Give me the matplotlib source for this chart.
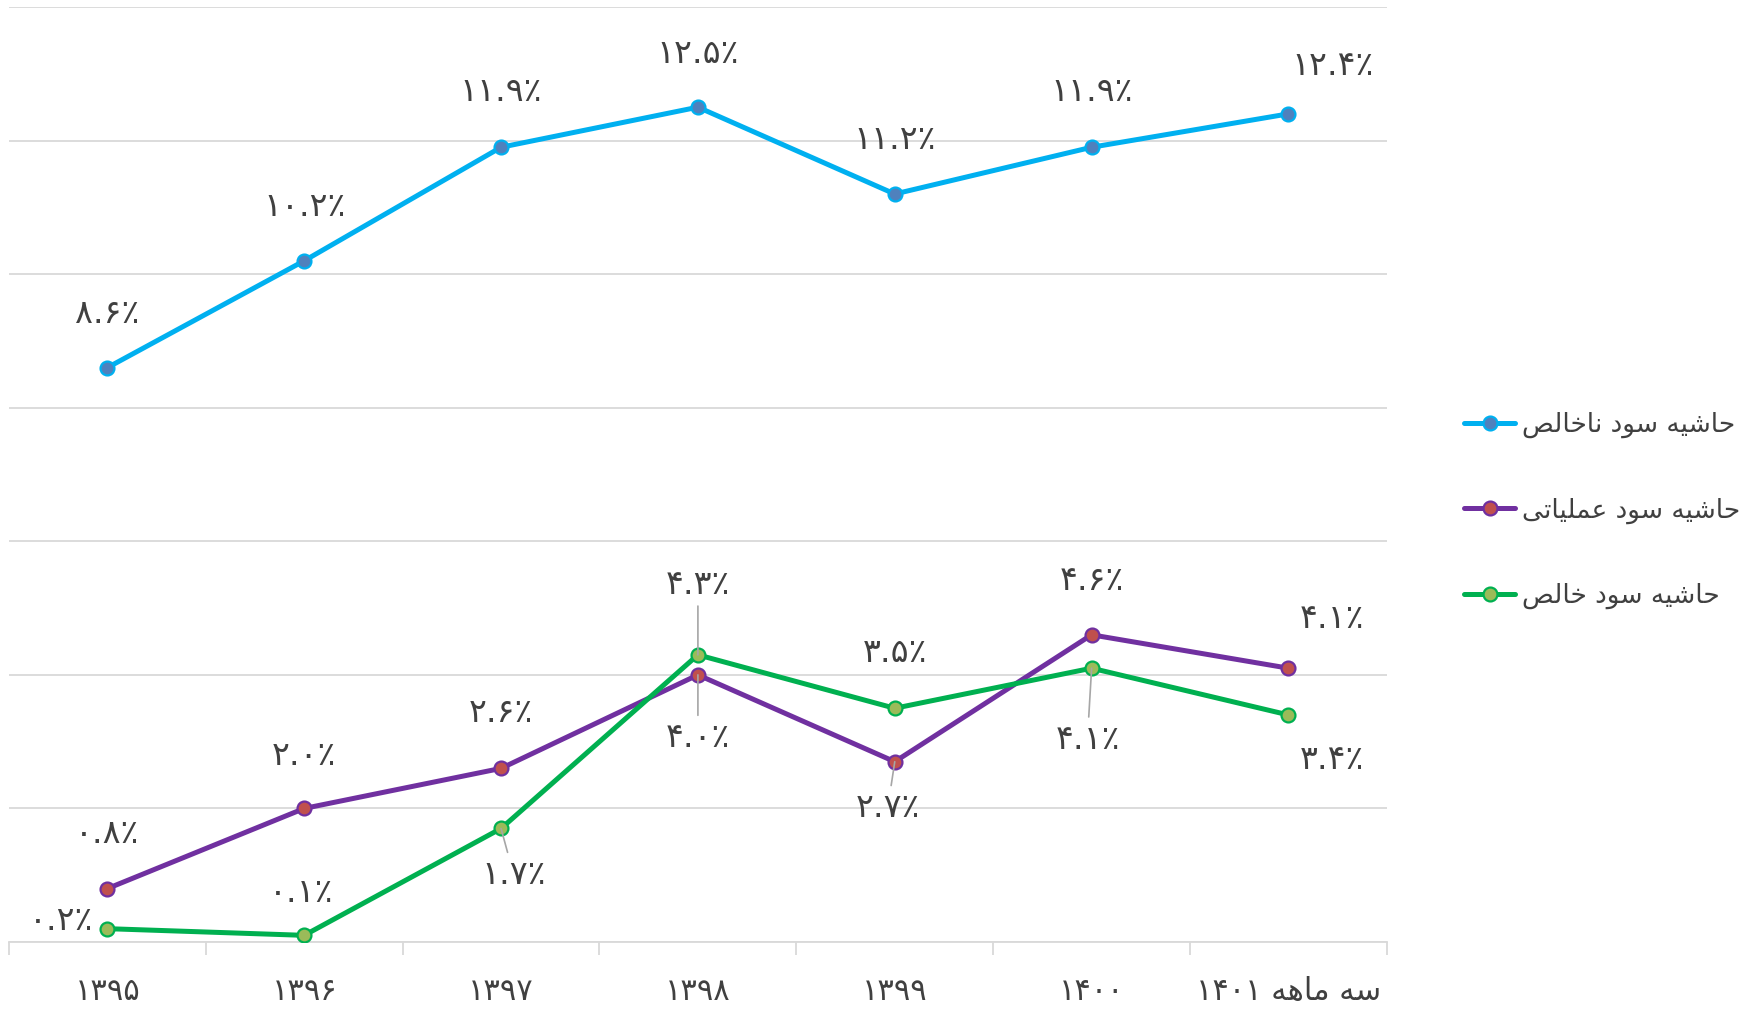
import numpy as np
import matplotlib
matplotlib.use("Agg")
import matplotlib.pyplot as plt
from matplotlib.lines import Line2D
from matplotlib import font_manager, ft2font

# ── data ─────────────────────────────────────────
categories = ["۱۳۹۵", "۱۳۹۶", "۱۳۹۷", "۱۳۹۸", "۱۳۹۹", "۱۴۰۰", "سه ماهه ۱۴۰۱"]
gross_margin = [8.6, 10.2, 11.9, 12.5, 11.2, 11.9, 12.4]
operating_margin = [0.8, 2.0, 2.6, 4.0, 2.7, 4.6, 4.1]
net_margin = [0.2, 0.1, 1.7, 4.3, 3.5, 4.1, 3.4]
series_names = ["حاشیه سود ناخالص", "حاشیه سود عملیاتی", "حاشیه سود خالص"]

# ── minimal Arabic-script shaping (matplotlib has no text shaping) ──
FORMS = {
    "ا": (0xFE8D, 0xFE8E, None, None),
    "ت": (0xFE95, 0xFE96, 0xFE97, 0xFE98),
    "ح": (0xFEA1, 0xFEA2, 0xFEA3, 0xFEA4),
    "خ": (0xFEA5, 0xFEA6, 0xFEA7, 0xFEA8),
    "د": (0xFEA9, 0xFEAA, None, None),
    "س": (0xFEB1, 0xFEB2, 0xFEB3, 0xFEB4),
    "ش": (0xFEB5, 0xFEB6, 0xFEB7, 0xFEB8),
    "ص": (0xFEB9, 0xFEBA, 0xFEBB, 0xFEBC),
    "ع": (0xFEC9, 0xFECA, 0xFECB, 0xFECC),
    "ل": (0xFEDD, 0xFEDE, 0xFEDF, 0xFEE0),
    "م": (0xFEE1, 0xFEE2, 0xFEE3, 0xFEE4),
    "ن": (0xFEE5, 0xFEE6, 0xFEE7, 0xFEE8),
    "ه": (0xFEE9, 0xFEEA, 0xFEEB, 0xFEEC),
    "و": (0xFEED, 0xFEEE, None, None),
    "ی": (0xFBFC, 0xFBFD, 0xFBFE, 0xFBFF),
}
FONT = "DejaVu Sans"
cmap = ft2font.FT2Font(font_manager.findfont(FONT)).get_charmap()
if 0xFBFC not in cmap:
    FORMS["ی"] = (0xFEEF, 0xFEF0, 0xFEF3, 0xFEF4)


def shape(text):
    out = []
    for i, ch in enumerate(text):
        if ch not in FORMS:
            out.append(ch)
            continue
        prev = text[i - 1] if i > 0 else ""
        nxt = text[i + 1] if i + 1 < len(text) else ""
        iso, fin, ini, med = FORMS[ch]
        j_prev = prev in FORMS and FORMS[prev][2] is not None
        j_next = nxt in FORMS and ini is not None
        if j_prev and j_next:
            g = med
        elif j_prev:
            g = fin
        elif j_next:
            g = ini
        else:
            g = iso
        out.append(chr(g))
    # visual order: RTL runs reversed, digit runs kept LTR
    runs = []
    for ch in out:
        d = ch.isdigit() or ch in ".٪"
        if runs and runs[-1][0] == d:
            runs[-1][1].append(ch)
        else:
            runs.append([d, [ch]])
    return "".join("".join(c if d else reversed(c)) for d, c in reversed(runs))


def fa_pct(v):
    s = f"{v:.1f}".translate(str.maketrans("0123456789", "۰۱۲۳۴۵۶۷۸۹"))
    return s + "٪"


# ── styling ──────────────────────────────────────
TXT = "#404040"
GRID = "#D9D9D9"
LEADER = "#A6A6A6"
styles = [
    dict(color="#00B0F0", mfc="#4F81BD", mec="#00B0F0"),
    dict(color="#7030A0", mfc="#C0504D", mec="#7030A0"),
    dict(color="#00B050", mfc="#9BBB59", mec="#00B050"),
]
# label offsets in points (dx, dy); leaders = (series, index) with a line
offsets = [
    [(0, 39), (0, 39), (0, 40), (0, 39), (0, 39), (0, 40), (32, 35)],
    [(0, 40), (0, 38), (0, 40), (0, -45), (-5, -33), (0, 39), (31, 36)],
    [(-33, 6), (-2, 31), (9, -33), (0, 51), (0, 40), (-3, -51), (31, -32)],
]
leaders = {(1, 3), (1, 4), (2, 2), (2, 3), (2, 5)}

plt.rcParams["font.family"] = [FONT]

fig = plt.figure(figsize=(17.52, 10.15), dpi=100)
ax = fig.add_axes([0.0051, 0.0719, 0.7865, 0.9212])

x = np.arange(len(categories))
all_series = [gross_margin, operating_margin, net_margin]
for si, (vals, st) in enumerate(zip(all_series, styles)):
    ax.plot(x, vals, color=st["color"], lw=3.6, marker="o", ms=10,
            mfc=st["mfc"], mec=st["mec"], mew=1.6, zorder=3,
            solid_capstyle="round")
    for i, v in enumerate(vals):
        dx, dy = offsets[si][i]
        arrow = None
        if (si, i) in leaders:
            arrow = dict(arrowstyle="-", color=LEADER, lw=1.2,
                         shrinkA=2, shrinkB=0)
        ax.annotate(fa_pct(v), (i, v), xytext=(dx, dy),
                    textcoords="offset points", ha="center", va="center",
                    fontsize=24, color=TXT, arrowprops=arrow, zorder=4)

ax.set_xlim(-0.5, len(categories) - 0.5)
ax.set_ylim(0, 14)
ax.set_yticks(np.arange(0, 15, 2))
ax.yaxis.grid(True, color=GRID, lw=1.3)
ax.set_axisbelow(True)
ax.tick_params(axis="y", left=False, labelleft=False)

ax.set_xticks(x, labels=[shape(c) for c in categories])
ax.set_xticks(np.arange(-0.5, len(categories), 1), minor=True)
ax.tick_params(axis="x", which="major", length=0, pad=25,
               labelsize=22, labelcolor=TXT)
ax.tick_params(axis="x", which="minor", length=9, width=1.3,
               color=GRID, direction="out")

for side in ["top", "right", "left"]:
    ax.spines[side].set_visible(False)
ax.spines["bottom"].set_color(GRID)
ax.spines["bottom"].set_linewidth(1.3)

handles = [Line2D([], [], color=st["color"], lw=3.6, marker="o", ms=10,
                  mfc=st["mfc"], mec=st["mec"], mew=1.6,
                  solid_capstyle="round") for st in styles]
fig.legend(handles, [shape(n) for n in series_names], loc="center left",
           bbox_to_anchor=(0.822, 0.497), frameon=False, fontsize=19,
           labelcolor=TXT, handlelength=1.95, handletextpad=0.25,
           labelspacing=2.25)

fig.savefig("out.png", dpi=100)
